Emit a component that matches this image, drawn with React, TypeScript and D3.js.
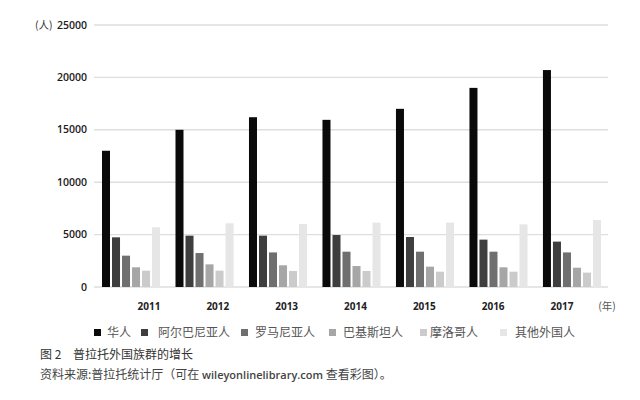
import React from 'react';
import { scaleBand, scaleLinear, scalePoint } from 'd3';

const years = ['2011', '2012', '2013', '2014', '2015', '2016', '2017'];
const seriesNames = ['华人', '阿尔巴尼亚人', '罗马尼亚人', '巴基斯坦人', '摩洛哥人', '其他外国人'];
const chinese = [13000, 15000, 16200, 15950, 17000, 19000, 20700];
const albanian = [4740, 4900, 4900, 4960, 4770, 4520, 4330];
const romanian = [2990, 3240, 3300, 3370, 3370, 3370, 3300];
const pakistani = [1880, 2160, 2070, 2000, 1940, 1880, 1840];
const moroccan = [1560, 1560, 1530, 1530, 1460, 1460, 1370];
const others = [5700, 6080, 6010, 6140, 6140, 5980, 6390];
const yTicks = [0, 5000, 10000, 15000, 20000, 25000];

const seriesValues = [chinese, albanian, romanian, pakistani, moroccan, others];
const colors = ['#0a0a0a', '#3e3e3e', '#6f6f6f', '#a6a6a6', '#cbcbcb', '#e6e6e6'];

const W = 640;
const H = 400;
const margin = { top: 25, bottom: 113, left: 94, right: 32 };

const App = () => {
    const y = scaleLinear().domain([0, 25000]).range([H - margin.bottom, margin.top]);
    // groups of bars
    const x = scaleBand<string>().domain(years).range([102, 601]).paddingInner(0.21).paddingOuter(0);
    const xInner = scaleBand<string>().domain(seriesNames).range([0, x.bandwidth()]).paddingInner(0.2).paddingOuter(0);
    // the year labels in the original are spread a bit differently from the groups
    const xLabel = scalePoint<string>().domain(years).range([149, 562]);

    // legend layout (left of each square)
    const legendX = [94, 141, 241, 329, 420, 500];
    const legendGap = [13, 17, 14, 14, 10, 15];

    return (
        <svg width={W} height={H} style={{ position: 'absolute', left: 0, top: 0, background: '#fff' }}>
            <g>
                {yTicks.map(t => (
                    <g key={t}>
                        <line x1={margin.left} x2={W - margin.right} y1={y(t)} y2={y(t)} stroke="#dedede" strokeWidth={1.4} />
                        <text x={87} y={y(t)} dy="0.35em" textAnchor="end" fontFamily="'Open Sans', sans-serif" fontWeight={600} fontSize={10.5} fill="#1a1a1a">{t}</text>
                    </g>
                ))}
                <text x={35} y={y(25000)} dy="0.35em" fontFamily="'Noto Sans CJK SC', sans-serif" fontSize={10.5} fill="#333">(人)</text>
            </g>
            <g>
                {years.map((yr, i) => (
                    <g key={yr} transform={`translate(${x(yr)},0)`}>
                        {seriesNames.map((s, j) => (
                            <rect key={s} x={xInner(s)} y={y(seriesValues[j][i])} width={xInner.bandwidth()} height={y(0) - y(seriesValues[j][i])} fill={colors[j]} />
                        ))}
                    </g>
                ))}
            </g>
            <g>
                {years.map(yr => (
                    <text key={yr} x={xLabel(yr)} y={306} dy="0.35em" textAnchor="middle" fontFamily="'Open Sans', sans-serif" fontWeight={700} fontSize={10} fill="#222">{yr}</text>
                ))}
                <text x={607} y={306} dy="0.35em" textAnchor="middle" fontFamily="'Noto Sans CJK SC', sans-serif" fontSize={10.5} fill="#555">(年)</text>
            </g>
            <g>
                {seriesNames.map((s, j) => (
                    <g key={s} transform={`translate(${legendX[j]},333)`}>
                        <rect x={0} y={-4} width={7} height={7} fill={colors[j]} />
                        <text x={legendGap[j]} y={0} dy="0.35em" fontFamily="'Noto Sans CJK SC', sans-serif" fontSize={12} fill="#555">{s}</text>
                    </g>
                ))}
            </g>
            <text x={40} y={355} dy="0.35em" fontFamily="'Noto Sans CJK SC', sans-serif" fontSize={12} fill="#333">
                <tspan>图 2</tspan>
                <tspan x={73}>普拉托外国族群的增长</tspan>
            </text>
            <text x={40} y={375} dy="0.35em" fontFamily="'Noto Sans CJK SC', sans-serif" fontSize={12} fill="#444">
                资料来源:普拉托统计厅（可在 <tspan fontFamily="'Open Sans', sans-serif" fontWeight={600} fontSize={11}>wileyonlinelibrary.com</tspan> 查看彩图）。
            </text>
        </svg>
    );
};

export default App;
